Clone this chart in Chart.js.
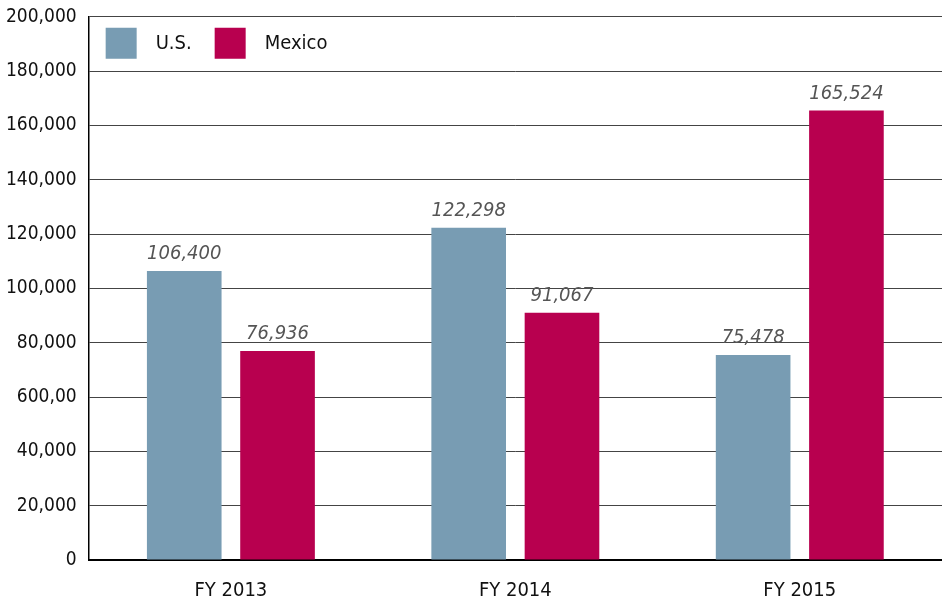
<!DOCTYPE html>
<html lang="en">
<head>
  <meta charset="UTF-8">
  <title>U.S. vs Mexico</title>
  <script src="https://cdn.jsdelivr.net/npm/chart.js"></script>
  <style>
    html, body { margin: 0; padding: 0; background: #fff; }
    .wrap { width: 942px; height: 616px; }
  </style>
</head>
<body>
  <div class="wrap"><canvas id="chart" width="942" height="616"></canvas></div>
  <script>
    const categories = ['FY 2013', 'FY 2014', 'FY 2015'];
    const usValues = [106400, 122298, 75478];
    const mexicoValues = [76936, 91067, 165524];
    // labels as printed on the original axis (typo kept)
    const yTickLabels = ['0', '20,000', '40,000', '600,00', '80,000', '100,000',
                         '120,000', '140,000', '160,000', '180,000', '200,000'];

    const FONT = '"Liberation Sans Narrow", "DejaVu Sans Condensed", Arial, sans-serif';

    // value labels above bars
    const valueLabels = {
      id: 'valueLabels',
      afterDatasetsDraw(chart) {
        const ctx = chart.ctx;
        ctx.save();
        ctx.font = 'italic 20px ' + FONT;
        ctx.fillStyle = '#555';
        ctx.textAlign = 'center';
        ctx.textBaseline = 'bottom';
        chart.data.datasets.forEach((ds, i) => {
          chart.getDatasetMeta(i).data.forEach((bar, j) => {
            ctx.fillText(ds.data[j].toLocaleString('en-US'), bar.x, bar.y - 7);
          });
        });
        ctx.restore();
      }
    };

    // legend drawn inside the plot, top left
    const innerLegend = {
      id: 'innerLegend',
      afterDraw(chart) {
        const ctx = chart.ctx;
        const area = chart.chartArea;
        ctx.save();
        ctx.font = '20px ' + FONT;
        ctx.textBaseline = 'middle';
        let x = area.left + 17;
        const y = area.top + 11;
        chart.data.datasets.forEach(ds => {
          ctx.fillStyle = ds.backgroundColor;
          ctx.fillRect(x, y, 31, 31);
          ctx.fillStyle = '#111';
          ctx.fillText(ds.label, x + 50, y + 16);
          x += 109;
        });
        ctx.restore();
      }
    };

    new Chart(document.getElementById('chart'), {
      type: 'bar',
      data: {
        labels: categories,
        datasets: [
          { label: 'U.S.', data: usValues, backgroundColor: '#789cb3' },
          { label: 'Mexico', data: mexicoValues, backgroundColor: '#b8004f' }
        ]
      },
      options: {
        responsive: false,
        animation: false,
        layout: { padding: { top: 6, right: 0, bottom: -6, left: -6 } },
        datasets: { bar: { categoryPercentage: 0.656, barPercentage: 0.8 } },
        plugins: { legend: { display: false }, tooltip: { enabled: false } },
        scales: {
          x: {
            grid: { display: false, drawTicks: false },
            border: { color: '#000', width: 2 },
            ticks: { color: '#111', font: { family: FONT, size: 20 }, padding: 19 }
          },
          y: {
            min: 0, max: 200000,
            grid: { color: '#444', lineWidth: 1, drawTicks: false },
            border: { color: '#000', width: 1.5 },
            ticks: {
              stepSize: 20000,
              color: '#111',
              padding: 12,
              font: { family: FONT, size: 19, lineHeight: 0.5 },
              callback: (v, i) => yTickLabels[i]
            }
          }
        }
      },
      plugins: [valueLabels, innerLegend]
    });
  </script>
</body>
</html>
